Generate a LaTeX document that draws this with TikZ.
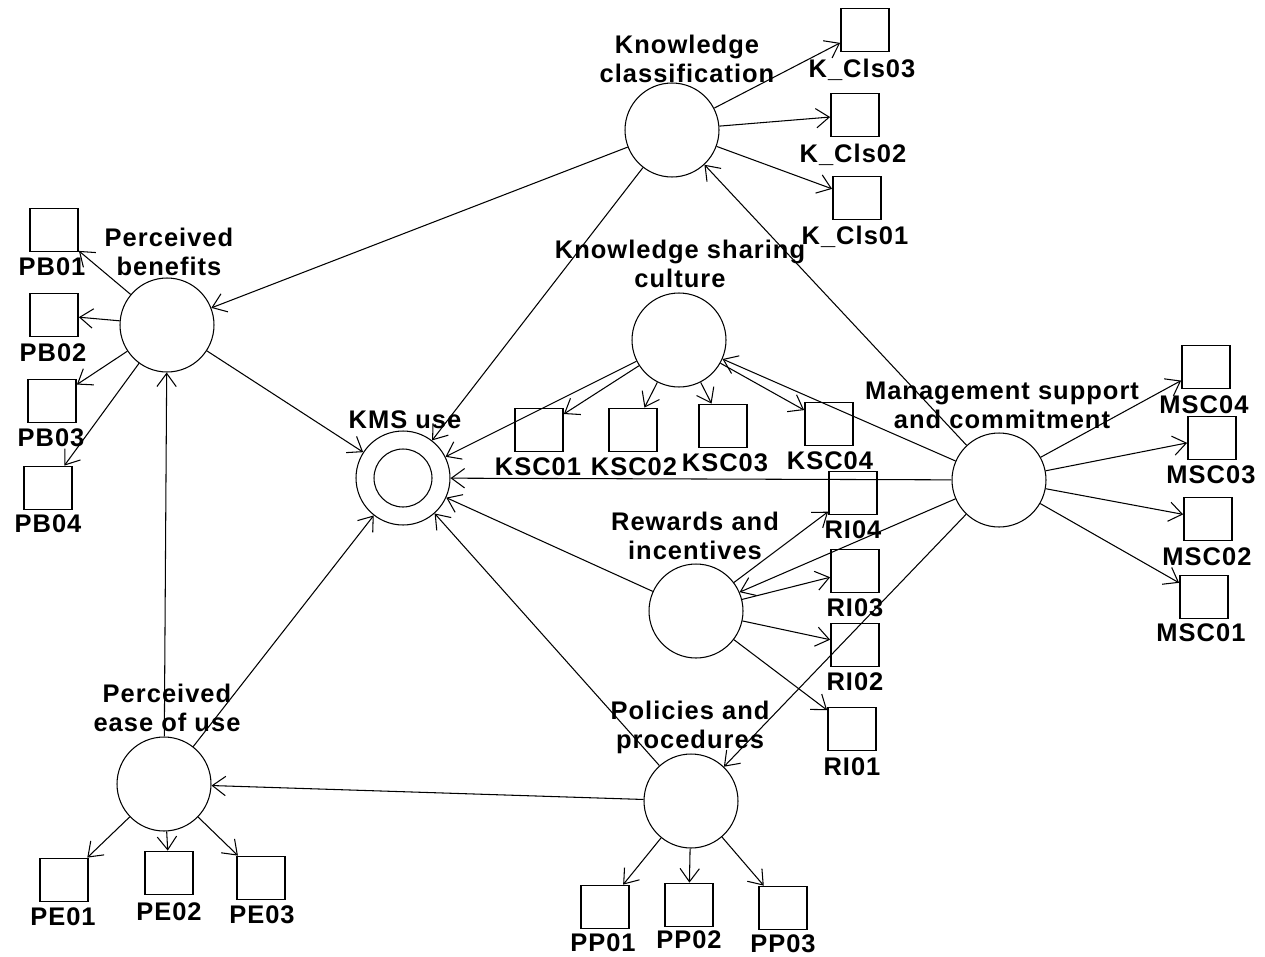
\documentclass[tikz,border=0pt]{standalone}
\usepackage{fontspec}
\setmainfont{Liberation Sans}[LetterSpace=4]
\usetikzlibrary{arrows.meta}
\tikzset{
  construct/.style={draw, circle, minimum size=1.88cm, inner sep=0pt, line width=0.6pt},
  indicator/.style={draw, rectangle, minimum width=0.96cm, minimum height=0.86cm, inner sep=0pt, line width=1pt},
  lbl/.style={inner sep=0pt, align=center, font=\fontsize{14.5}{16.4}\selectfont\bfseries},
  link/.style={line width=0.6pt, -{Straight Barb[length=7.5pt,width=11pt,line width=0.6pt]}}
}
\begin{document}
\begin{tikzpicture}[x=0.02cm, y=-0.02cm]
\useasboundingbox (0,0) rectangle (1265,957);

% latent constructs
\node[construct] (kc)   at (672,130) {};
\node[construct] (pb)   at (167,325) {};
\node[construct] (ksc)  at (679,340) {};
\node[construct] (kms)  at (403,478) {};
\node[construct] (msc)  at (999,480) {};
\node[construct] (ri)   at (696,611) {};
\node[construct] (peou) at (164,784) {};
\node[construct] (pp)   at (691,801) {};
\draw[line width=0.6pt] (kms) circle[radius=0.58cm];

% construct labels
\node[lbl] (kcL)   at (687,59)   {Knowledge\\classification};
\node[lbl] (pbL)   at (169,252)  {Perceived\\benefits};
\node[lbl] (kscL)  at (680,264)  {Knowledge sharing\\culture};
\node[lbl] (kmsL)  at (405,420)  {KMS use};
\node[lbl] (mscL)  at (1002,405) {Management support\\and commitment};
\node[lbl] (riL)   at (695,536)  {Rewards and\\incentives};
\node[lbl] (peouL) at (167,708)  {Perceived\\ease of use};
\node[lbl] (ppL)   at (690,727)  {Policies and\\procedures};

% indicators
\node[indicator] (kcls3) at (865,30)  {};
\node[indicator] (kcls2) at (855,115) {};
\node[indicator] (kcls1) at (857,198) {};
\node[indicator] (pb1) at (54,230) {};
\node[indicator] (pb2) at (54,315) {};
\node[indicator] (pb3) at (52,401) {};
\node[indicator] (pb4) at (48,488) {};
\node[indicator] (ksc1) at (539,430) {};
\node[indicator] (ksc2) at (633,430) {};
\node[indicator] (ksc3) at (723,426) {};
\node[indicator] (ksc4) at (829,424) {};
\node[indicator] (ri4) at (853,493) {};
\node[indicator] (ri3) at (855,571) {};
\node[indicator] (ri2) at (855,645) {};
\node[indicator] (ri1) at (852,729) {};
\node[indicator] (msc4) at (1206,367) {};
\node[indicator] (msc3) at (1212,438) {};
\node[indicator] (msc2) at (1208,519) {};
\node[indicator] (msc1) at (1204,597) {};
\node[indicator] (pe1) at (64,880)  {};
\node[indicator] (pe2) at (169,873) {};
\node[indicator] (pe3) at (261,878) {};
\node[indicator] (pp1) at (605,907) {};
\node[indicator] (pp2) at (689,905) {};
\node[indicator] (pp3) at (783,908) {};

% indicator labels
\node[lbl] at (862,70)  {K\_Cls03};
\node[lbl] at (853,155) {K\_Cls02};
\node[lbl] at (855,237) {K\_Cls01};
\node[lbl] at (52,267)  {PB01};
\node[lbl] at (53,353)  {PB02};
\node[lbl] at (51,438)  {PB03};
\node[lbl] at (48,524)  {PB04};
\node[lbl] at (538,467) {KSC01};
\node[lbl] at (634,467) {KSC02};
\node[lbl] at (725,463) {KSC03};
\node[lbl] at (830,461) {KSC04};
\node[lbl] at (853,530) {RI04};
\node[lbl] at (855,608) {RI03};
\node[lbl] at (855,682) {RI02};
\node[lbl] at (852,767) {RI01};
\node[lbl] at (1204,405) {MSC04};
\node[lbl] at (1211,475) {MSC03};
\node[lbl] at (1207,557) {MSC02};
\node[lbl] at (1201,633) {MSC01};
\node[lbl] at (63,917)  {PE01};
\node[lbl] at (169,912) {PE02};
\node[lbl] at (262,915) {PE03};
\node[lbl] at (603,943) {PP01};
\node[lbl] at (689,940) {PP02};
\node[lbl] at (783,944) {PP03};

% structural paths
\draw[link] (kc) -- (pb);
\draw[link] (kc) -- (kms);
\draw[link] (msc) -- (kc);
\draw[link] (pb) -- (kms);
\draw[link] (peou) -- (pb);
\draw[link] (peou) -- (kms);
\draw[link] (pp) -- (peou);
\draw[link] (pp) -- (kms);
\draw[link] (msc) -- (pp);
\draw[link] (msc) -- (kms);
\draw[link] (msc) -- (ri);
\draw[link] (msc) -- (ksc);
\draw[link] (ri) -- (kms);
\draw[link] (ksc) -- (kms);

% measurement paths
\foreach \i in {1,2,3} \draw[link] (kc) -- (kcls\i);
\foreach \i in {1,2,3,4} \draw[link] (pb) -- (pb\i);
\foreach \i in {1,2,3,4} \draw[link] (ksc) -- (ksc\i);
\foreach \i in {1,2,3,4} \draw[link] (ri) -- (ri\i);
\foreach \i in {1,2,3,4} \draw[link] (msc) -- (msc\i);
\foreach \i in {1,2,3} \draw[link] (peou) -- (pe\i);
\foreach \i in {1,2,3} \draw[link] (pp) -- (pp\i);
\end{tikzpicture}
\end{document}
